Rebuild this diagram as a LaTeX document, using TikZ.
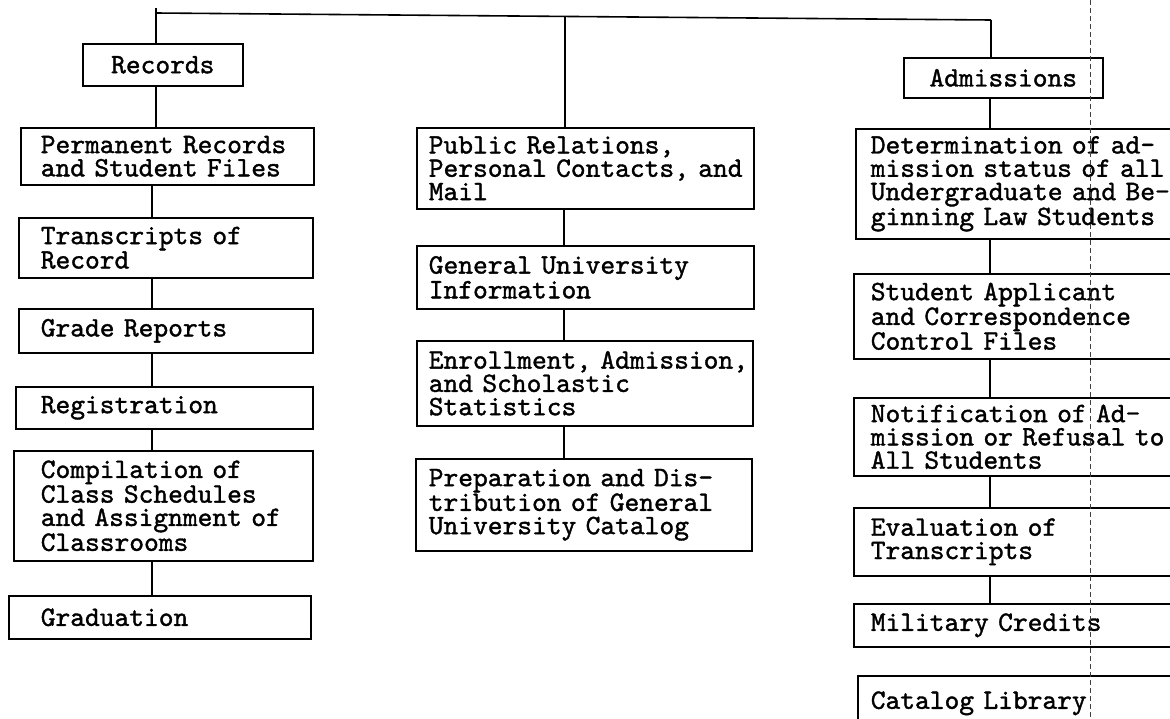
\documentclass[tikz,border=0pt]{standalone}
\usepackage{fontspec}
\newfontfamily\typew{lmmono10-regular.otf}[FakeBold=1.3]
\tikzset{
  box/.style={draw, line width=1.6pt, anchor=north west, inner sep=0pt, align=left,
    font=\typew\fontsize{28.1}{23.3}\selectfont},
  cbox/.style={draw, line width=1.6pt, anchor=north west, inner sep=0pt, align=center,
    font=\typew\fontsize{28.1}{23.3}\selectfont},
  link/.style={line width=1.6pt},
  fold/.style={line width=0.8pt, dash pattern=on 5pt off 3pt, black!75}
}
% #1 name, #2 x1, #3 y1, #4 x2, #5 y2, #6 text x, #7 text
\newcommand\bx[7]{%
  \pgfmathsetmacro\mw{#4-#2}%
  \pgfmathsetmacro\mh{#5-#3}%
  \pgfmathsetmacro\tw{#2+#4-2*#6}%
  \node[box, minimum width=\mw pt, minimum height=\mh pt, text width=\tw pt] (#1) at (#2,#3) {#7};}
\newcommand\cbx[6]{%
  \pgfmathsetmacro\mw{#4-#2}%
  \pgfmathsetmacro\mh{#5-#3}%
  \node[cbox, minimum width=\mw pt, minimum height=\mh pt] (#1) at (#2,#3) {#6};}
\begin{document}
\begin{tikzpicture}[x=1pt,y=-1pt]
\path[use as bounding box, clip] (0,0) rectangle (1170,718);
\fill[white] (0,0) rectangle (1170,718);

% left column
\cbx{rec}{82}{43}{242}{85}{Records}
\bx{perm}{20}{127}{313}{184}{40}{\mbox{Permanent Records}\\\mbox{and Student Files}}
\bx{trans}{18}{217}{312}{277}{40}{\mbox{Transcripts of}\\Record}
\bx{grade}{18}{308}{312}{352}{40}{\mbox{Grade Reports}}
\bx{reg}{15}{386}{312}{428}{40}{Registration}
\bx{comp}{13}{450}{312}{560}{40}{\mbox{Compilation of}\\\mbox{Class Schedules}\\\mbox{and Assignment of}\\Classrooms}
\bx{grad}{8}{595}{310}{638}{40}{Graduation}

% centre column
\bx{pr}{416}{127}{753}{208}{428}{\mbox{Public Relations,}\\\mbox{Personal Contacts, and}\\Mail}
\bx{gen}{416}{245}{753}{308}{428}{\mbox{General University}\\Information}
\bx{enr}{416}{340}{752}{425}{428}{\mbox{Enrollment, Admission,}\\\mbox{and Scholastic}\\Statistics}
\bx{prep}{415}{458}{751}{550}{428}{\mbox{Preparation and Dis-}\\\mbox{tribution of General}\\\mbox{University Catalog}}

% right column
\cbx{adm}{903}{57}{1102}{97}{Admissions}
\bx{det}{855}{128}{1200}{238}{870}{\mbox{Determination of ad-}\\\mbox{mission status of all}\\\mbox{Undergraduate and Be-}\\\mbox{ginning Law Students}}
\bx{stu}{853}{273}{1200}{358}{870}{\mbox{Student Applicant}\\\mbox{and Correspondence}\\\mbox{Control Files}}
\bx{not}{853}{397}{1200}{475}{870}{\mbox{Notification of Ad-}\\\mbox{mission or Refusal to}\\\mbox{All Students}}
\bx{eval}{853}{507}{1200}{575}{870}{\mbox{Evaluation of}\\Transcripts}
\bx{mil}{853}{603}{1200}{646}{870}{\mbox{Military Credits}}
\bx{cat}{857}{675}{1200}{730}{870}{\mbox{Catalog Library}}

% bus
\coordinate (top) at (156,8);
\coordinate (bl) at (156,13);
\coordinate (bc) at (565,16);
\coordinate (br) at (991,20);
\coordinate (L) at (152,0);
\coordinate (C) at (564,0);
\coordinate (R) at (990,0);

\draw[link] (bl) -- (br);
\draw[link] (top) -- (rec.north -| top);
\draw[link] (bc) -- (pr.north -| bc);
\draw[link] (br) -- (adm.north -| br);

\draw[link] (rec.south -| top) -- (perm.north -| top);
\draw[link] (perm.south -| L) -- (trans.north -| L);
\draw[link] (trans.south -| L) -- (grade.north -| L);
\draw[link] (grade.south -| L) -- (reg.north -| L);
\draw[link] (reg.south -| L) -- (comp.north -| L);
\draw[link] (comp.south -| L) -- (grad.north -| L);

\draw[link] (pr.south -| C) -- (gen.north -| C);
\draw[link] (gen.south -| C) -- (enr.north -| C);
\draw[link] (enr.south -| C) -- (prep.north -| C);

\draw[link] (adm.south -| R) -- (det.north -| R);
\draw[link] (det.south -| R) -- (stu.north -| R);
\draw[link] (stu.south -| R) -- (not.north -| R);
\draw[link] (not.south -| R) -- (eval.north -| R);
\draw[link] (eval.south -| R) -- (mil.north -| R);

% fold mark of the scan
\draw[fold] (1090,0) -- (1090,718);
\end{tikzpicture}
\end{document}
